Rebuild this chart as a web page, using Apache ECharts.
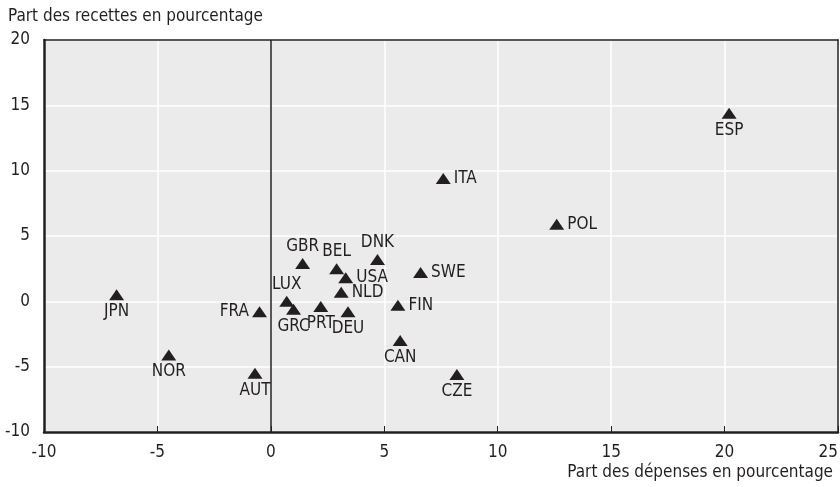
<!DOCTYPE html>
<html>
<head>
<meta charset="utf-8">
<script src="https://cdn.jsdelivr.net/npm/echarts@6/dist/echarts.min.js"></script>
<style>
  html, body { margin: 0; padding: 0; background: #fff; }
  #chart { width: 840px; height: 487px; }
</style>
</head>
<body>
<div id="chart"></div>
<script>
const countries = ['ESP', 'ITA', 'POL', 'DNK', 'SWE', 'FIN', 'CAN', 'CZE', 'GBR', 'BEL', 'USA', 'NLD', 'LUX', 'GRC', 'PRT', 'DEU', 'FRA', 'JPN', 'NOR', 'AUT']
const spending = [20.2, 7.6, 12.6, 4.7, 6.6, 5.6, 5.7, 8.2, 1.4, 2.9, 3.3, 3.1, 0.7, 1.0, 2.2, 3.4, -0.5, -6.8, -4.5, -0.7]
const revenue = [14.4, 9.4, 5.9, 3.2, 2.2, -0.3, -3.0, -5.6, 2.9, 2.5, 1.8, 0.7, 0.0, -0.6, -0.4, -0.8, -0.8, 0.5, -4.1, -5.5]
const xTicks = [-10, -5, 0, 5, 10, 15, 20, 25]
const yTicks = [-10, -5, 0, 5, 10, 15, 20]

// label side for each country
const labelSide = {
  ESP: 'bottom', ITA: 'right', POL: 'right', DNK: 'top', SWE: 'right', FIN: 'right',
  CAN: 'bottom', CZE: 'bottom', GBR: 'top', BEL: 'top', USA: 'right', NLD: 'right',
  LUX: 'top', GRC: 'bottom', PRT: 'bottom', DEU: 'bottom', FRA: 'left', JPN: 'bottom',
  NOR: 'bottom', AUT: 'bottom'
}

const font = '"Liberation Sans Narrow", "DejaVu Sans Condensed", sans-serif'
const textColor = '#231f20'

const chart = echarts.init(document.getElementById('chart'))

const points = countries.map((c, i) => ({
  name: c,
  value: [spending[i], revenue[i]],
  label: { position: labelSide[c] }
}))

const xMin = xTicks[0], xMax = xTicks[xTicks.length - 1]
const yMin = yTicks[0], yMax = yTicks[yTicks.length - 1]

// plain axis used only to draw the top / right frame lines
const frameAxis = (pos) => ({
  type: 'value', position: pos,
  min: pos === 'top' ? xMin : yMin, max: pos === 'top' ? xMax : yMax,
  axisLine: { show: true, onZero: false, lineStyle: { color: textColor, width: 1.5 } },
  axisTick: { show: false }, axisLabel: { show: false }, splitLine: { show: false }
})

chart.setOption({
  animation: false,
  textStyle: { fontFamily: font },
  title: [
    {
      text: 'Part des recettes en pourcentage',
      left: 3, top: 3,
      textStyle: { fontFamily: font, fontSize: 17, fontWeight: 'normal', color: textColor }
    },
    {
      text: 'Part des dépenses en pourcentage',
      right: 2, top: 459,
      textStyle: { fontFamily: font, fontSize: 17, fontWeight: 'normal', color: textColor }
    }
  ],
  grid: {
    left: 44, right: 2, top: 40, bottom: 55,
    outerBoundsMode: 'none',
    show: true, backgroundColor: '#ebebeb', borderWidth: 0
  },
  xAxis: [{
    type: 'value',
    min: xMin, max: xMax, interval: 5,
    axisLine: { show: true, onZero: false, lineStyle: { color: textColor, width: 2.5 } },
    axisTick: { show: true, inside: true, length: 6, lineStyle: { color: textColor } },
    axisLabel: { fontSize: 17, color: textColor, margin: 12, fontFamily: font, alignMaxLabel: 'right' },
    splitLine: { show: true, lineStyle: { color: '#ffffff', width: 1.5 } }
  }, frameAxis('top')],
  yAxis: [{
    type: 'value',
    min: yMin, max: yMax, interval: 5,
    axisLine: { show: true, onZero: false, lineStyle: { color: textColor, width: 2.5 } },
    axisTick: { show: false },
    axisLabel: { fontSize: 17, color: textColor, margin: 14, fontFamily: font },
    splitLine: { show: true, lineStyle: { color: '#ffffff', width: 1.5 } }
  }, frameAxis('right')],
  series: [{
    type: 'scatter',
    symbol: 'triangle',
    symbolSize: [15, 11],
    itemStyle: { color: textColor, opacity: 1 },
    label: {
      show: true,
      formatter: '{b}',
      fontSize: 17,
      color: textColor,
      fontFamily: font,
      distance: 3
    },
    emphasis: { disabled: true },
    markLine: {
      silent: true,
      symbol: 'none',
      label: { show: false },
      lineStyle: { color: textColor, width: 1.5, type: 'solid' },
      data: [{ xAxis: 0 }]
    },
    data: points
  }]
})
</script>
</body>
</html>
